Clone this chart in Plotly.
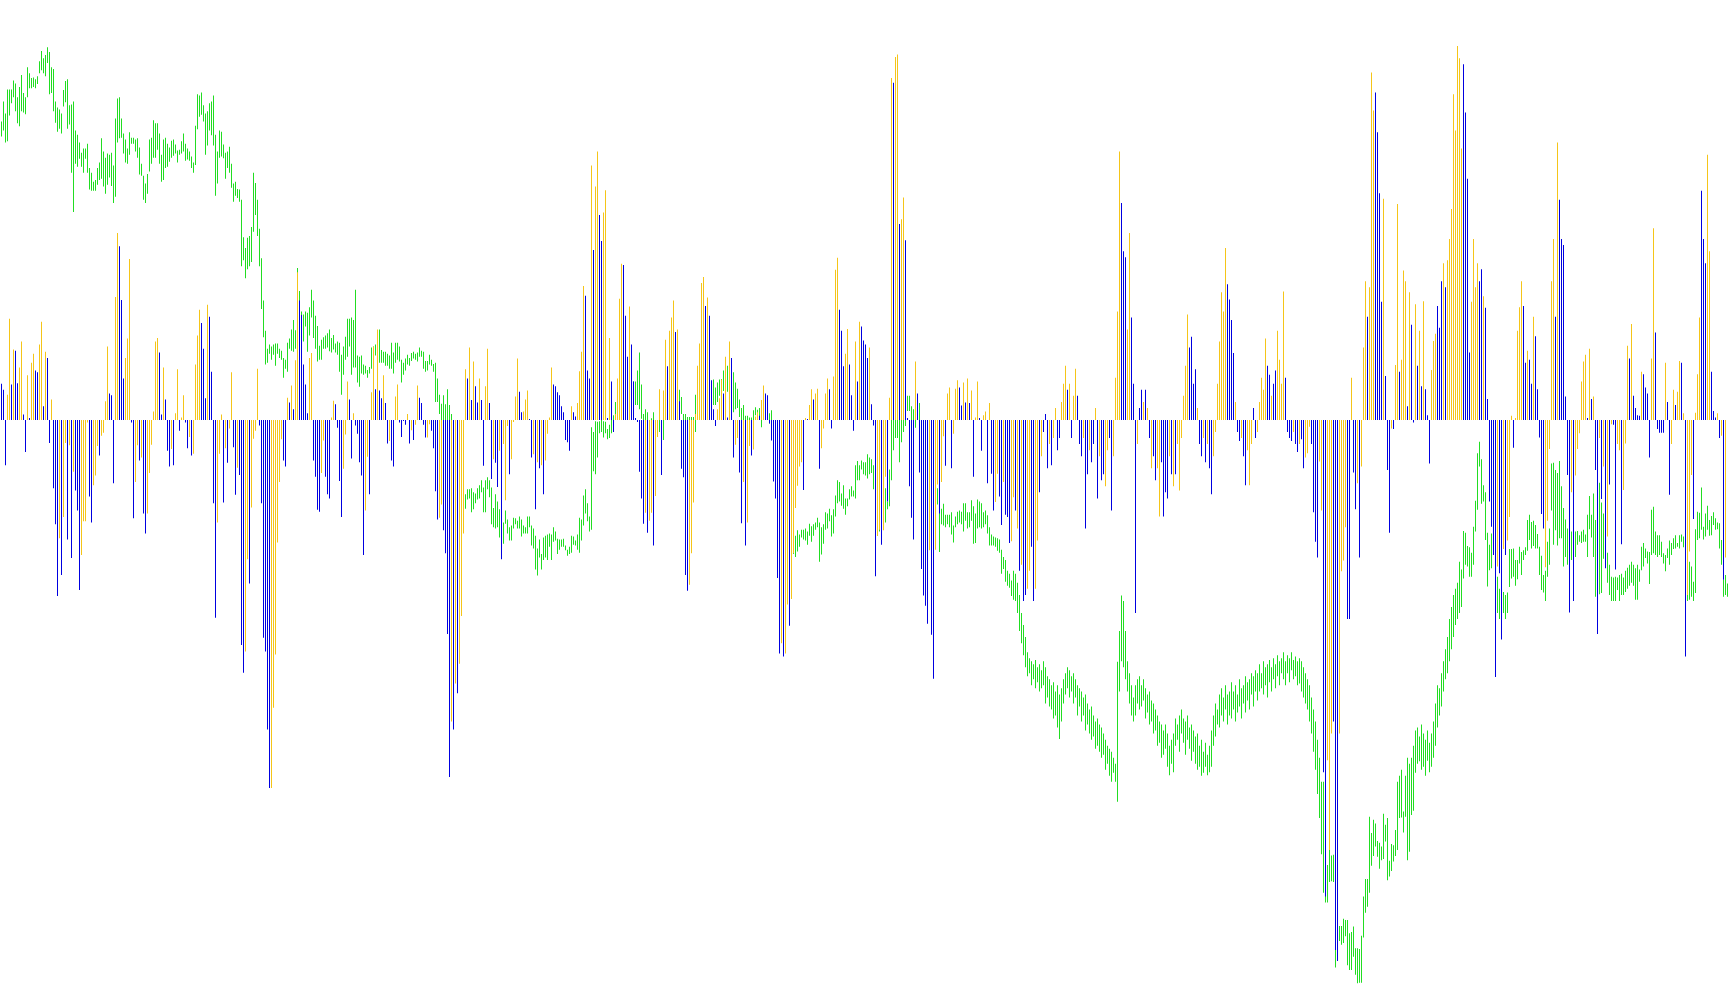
import plotly.graph_objects as go

# ---------------- data (bar index 0..863) ----------------
# oscillator histogram values
hist = [
    60, 50, -75, 42, 168, 59, 117, 115, 61, 87,
    130, 9, -53, 74, 3, 95, 110, 82, 79, 125,
    163, 23, 113, 103, -38, 34, -113, -173, -292, -196,
    -257, -161, -38, -198, -42, -229, -86, -117, -150, -282,
    -224, -168, -168, -4, -127, -170, -108, -92, -43, -59,
    -26, -21, 31, 122, 44, 41, -105, 204, 310, 288,
    199, 69, 103, 135, 267, -4, -163, -103, -42, -67,
    -62, -155,
    -188, -155, -88, -41, 14, 130, 136, 112, 9, 87,
    34, -51, -77, -48, -75, 11, 84, -18, 4, 41,
    -4, -47, -28, -59, -56, 92, 140, 183, 161, 118,
    36, 191, 171, 80, -138, -328, -170, -56, 9, -137,
    -47, -71, -14, 79, -45, -124, -79, -91, -373, -419,
    -384, -231, -271, -145, -31, -18, 85, -9, -138, -361,
    -384, -513, -610, -610, -477, -389, -203, -103, -32, -67,
    -77, 37, 29,
    57, 18, 99, 245, 198, 174, 92, 59, 11, 103,
    111, -67, -94, -149, -152, -88, -34, -94, -123, -130,
    4, 32, 26, -13, -101, -161, -81, -24, 64, 34,
    -64, 11, -9, -23, -70, -92, -224, -150, -61, -123,
    46, 122, 51, 150, 49, 36, 74, 28, -39, -35,
    -67, -77, 39, 59, -4, -28, -1, -8, 10, -39,
    -17, -33, -8, 57, 37, 28, -8, -29, -29, -7,
    -18, -47,
    -118, -165, -162, -140, -183, -221, -355, -592, -500, -513,
    -437, -453, -404, -325, -188, 84, 69, 120, 33, 97,
    56, 29, 69, 33, -76, 56, 118, 28, -98, -65,
    -71, -111, -51, -231, -40, -133, -10, -90, -65, -2,
    39, 102, 47, 13, 14, 34, 49, 1, -62, -57,
    -148, -70, -80, -75, -123, -67, -23, 4, 87, 59,
    56, 46, 41, 23, 13, -33, -37, -51, 23, 13,
    6, 28, 81,
    113, 222, 206, 82, 69, 422, 282, 387, 445, 340,
    297, 344, 381, 2, 136, 64, -20, 10, 69, 201,
    259, 257, 173, 105, 188, 125, 64, 3, -3, -86,
    -130, -172, -154, -187, -167, -154, -208, -126, -28, 51,
    -91, 49, 133, 89, 148, 170, 198, 146, 150, 31,
    -81, -95, -257, -283, -273, -221, -137, 10, 90, 127,
    227, 237, 189, 203, 173, 66, 18, -10, 18, 36,
    67, 44,
    105, 4, 130, 103, -62, -41, -30, -87, -171, -103,
    -208, -170, -43, -59, -49, 6, 13, 7, 33, 57,
    44, 41, -6, -34, -102, -130, -262, -387, -370, -392,
    -387, -306, -341, -297, -221, -146, -109, -77, -70, -116,
    3, 1, 25, 51, 34, 44, 52, -81, -47, -14,
    44, 69, 51, -14, 72, 249, 269, 183, 148, 89,
    110, 151, 92, 41, -18, 130, 64, 163, 155, 132,
    125, 103, 120,
    26, -9, -259, -192, -182, -207, -183, -94, -135, 37,
    567, 559, 602, 606, 325, 333, 369, 298, 2, -110,
    -162, -198, 97, 44, -87, -247, -291, -308, -338, -216,
    -356, -429, -215, -107, -155, -103, -27, -76, 44, 54,
    -80, -23, 52, 66, 54, 24, 62, 29, 69, 28,
    49, -94, 4, 64, 2, -51, 8, 14, -105, 28,
    -89, -150, -136, -89, -127, -174, -103, -157, -161, -204,
    -201, -128,
    -150, -180, -250, -240, -300, -290, -280, -250, -210, -300,
    -280, -200, -120, -60, -20, 10, -80, -40, -75, -30,
    20, -50, -30, 30, 60, 90, 50, 60, -30, 40,
    85, 40, -40, -60, -30, -180, -90, -50, -70, -40,
    20, -130, -60, -100, -90, -110, -50, -30, -150, -60,
    70, 180, 445, 360, 280, 270, 150, 310, 170, 60,
    -320, -40, 20, 50, 30, 50, 20, -30, -80, -60,
    -100, -80, -160, -70, -160, -120, -130, -60, -90, -110,
    -90, -40, -117, -30, 40, 90, 175, 120, 138, 60,
    84, 20, -40, -60, -30, -70, -40, -80, -123, -60,
    -20, 60, 130, 212, 180, 285, 225, 200, 166, 111,
    30, -20, -35, -30, -60, -108, -50, -108, -40, 20,
    -30, -20, 30, 70, 50, 135, 90, 75, 40, 60,
    82, 148, 100, 60, 213, 70, -20, -30, -35, -20,
    -40, -53, -40,
    -32, -80, -62, -55, -11, -40, -153, -202, -228, -69,
    -150, -584, -790, -564, -713, -520, -500, -879, -897, -520,
    -251, -233, -178, -330, -330, 70, -87, -148, -105, -228,
    -77, 120, 230, 171, 220, 576, 513, 543, 477, 376,
    196, 367, 73, -83, -187, -14, -15, 91, 358, 80,
    100, 248, 230, 23, 212, 158, -4, 192, 90, 148,
    56, 197, 51, 8, -72, 83, 131, 143, 189, 153,
    230, 260, 220, 265, 300, 350, 540, 480, 620, 600,
    450, 590, 510, 400, 112, 196, 300, 220, 260, 230,
    250, 205, 186, 35, -135, -177, -224, -426, -243, -254,
    -364, -214, -224, -200, -161, 7, -46, 2, 148, 187,
    230, 189, 95, 115, 100, 60, 171, 139, 51, -29,
    -156, -180, -244, -167, -48, 230, 300, 171, 460, 365,
    300, 290, 39, -91, -319, -120, -300, -92, -48, -22,
    64, 97, 108, 3, 118, 35, 39, -83, -355, -30,
    -131, -77, -246, -193, -107, -7, -8, -248, -40, -50,
    -206, -116, -39, 123, 102, 159, 40, 20, 8, 7,
    80, 76, 54, 44, -62, 102, 318, 145, -15, -21,
    -21, -21, 95, 30, -124, -40, 50, 25, 47, 98,
    95, 11, -392, -290, -218, -91, -164, 12, 76, 170,
    380, 300, 260, 440, 280, 80, 15, 4, 11, -30,
    -26, -265, -228, 0,
]

# histogram colour code per bar: B = blue, Y = yellow
hist_side = (
    "BBBYYBYBBY" "YBBYBYYBBY" "YBYBBYBBBY" "BYYBYBYBBB" "YYYYBBYYYB" "YYYYBBBYYB" "BBYYYBBYYB" "YB"
    "BYYYYYYBBY" "BBBYBYYBYY" "BBYBYYYYBB" "BYBBBBYYYB" "YBYYBBYBBB" "YYBYYYYBBB" "BBBYYYYYYB" "BYB"
    "YBYYBBBBBY" "YBBBBYYBBB" "YYBBBBYYYB" "BYBBBBBYYB" "YYBYBBYBBY" "BBYYBBBBYB" "YBYYBBBBYY" "BB"
    "BBYYBBBBYB" "YBYYYYBYBY" "BBYBBYYBBY" "BBYBYYYBYY" "YYBBYYYBBY" "BYBYBYYYYB" "BBBBBBBBYB" "BYY"
    "YYBBBYBYYB" "BYYBYBBYYY" "YBBBYBBBBB" "BBYBYYBYYY" "BYYBYYYBYB" "BBBBYYYYYY" "YYBYBBBBYY" "YB"
    "YBYBBYYBBY" "BYYBYYYBYY" "BBBBBBBBYB" "YYBYYYYYYB" "YBYYBYYBYY" "YYBBYYYBBB" "YYBBBYBYBB" "BBY"
    "BBBYYBYYBY" "YBYYBYYBBB" "BBYBBBBBBY" "BBYYBYYBYY" "BYYYBBYBYB" "YBYYBBYYBY" "BBYYBBYBBB" "YY"
    "BYBYBBYYBB" "YYBYBBBYBY" "YBBYYYBYBY" "YBBBYBBYBB" "YBYBBYYBBY" "YYYBBBYYBB" "BYBBYBYBYB"
    "BYYBBBBYBY" "BYYYYYYBBB" "BYBBYBYBBY" "YYYYYYBBBB" "YBBYBBYYYB" "BYYYYYBBYB" "BYYYYBBBBY" "BBY"
    "BBYYYBBBBY" "YBBYYYBBBY" "YYYBBYBBYB" "YYYBYYYBBB" "BYBBBYBYYB" "YYYBYBBYBY" "BYBBBYYYBB"
    "BYBYYYYYYY" "YBBBBYYYYB" "BYBBBBBBYB" "BYBYYYBYYY" "YBBYBBYBBB" "BBYYYYYBYB" "BBBBBYBYYY"
    "YYYBYBYBBY" "BYBYBYBBYY" "BYYYBYBBBB" "YBBBBYYBBB" "BBYBBYYBYY" "BYBYYYBYYY" "BBBYYBBBYB" "YBYY"
)

# price bars: high and low per bar
price_high = [
    495, 528, 508, 548, 548, 548, 563, 558, 535, 552,
    572, 542, 535, 585, 575, 567, 568, 565, 570, 595,
    612, 600, 605, 618, 610, 585, 582, 528, 518, 515,
    508, 547, 562, 565, 522, 523, 528, 480, 473, 460,
    443, 450, 450, 458, 418, 410, 395, 398, 418, 427,
    467, 445, 435, 442, 440, 443, 422, 500, 533, 535,
    500, 475, 465, 450, 477, 468, 468, 465, 467, 452,
    425, 405,
    392, 408, 465, 468, 497, 492, 492, 475, 440, 465,
    468, 458, 452, 463, 465, 457, 447, 448, 462, 475,
    458, 450, 445, 437, 427, 488, 540, 538, 543, 522,
    508, 512, 525, 528, 538, 473, 445, 480, 478, 457,
    443, 445, 453, 425, 392, 395, 383, 382, 365, 303,
    285, 302, 305, 320, 410, 393, 365, 317, 268, 198,
    148, 118, 125, 122, 125, 127, 127, 118, 115, 103,
    100, 128, 135,
    150, 166, 149, 252, 214, 180, 175, 180, 178, 187,
    216, 198, 173, 156, 123, 133, 137, 140, 144, 150,
    136, 141, 127, 130, 128, 108, 122, 138, 168, 168,
    170, 166, 216, 107, 105, 107, 92, 90, 83, 88,
    120, 122, 125, 130, 150, 116, 113, 113, 110, 107,
    128, 112, 128, 128, 122, 100, 95, 102, 108, 103,
    111, 113, 110, 112, 120, 115, 113, 98, 98, 108,
    100, 93,
    95, 69, 42, 27, 41, 26, 51, 25, 10, -20,
    -30, -50, -70, -90, -110, -123, -115, -115, -113, -120,
    -122, -113, -108, -100, -112, -100, -95, -100, -112, -146,
    -123, -135, -148, -170, -170, -150, -165, -178, -175, -162,
    -163, -167, -160, -165, -175, -178, -160, -160, -175, -180,
    -192, -213, -198, -222, -195, -192, -190, -188, -190, -178,
    -185, -197, -198, -198, -197, -208, -215, -210, -192, -193,
    -200, -190, -162,
    -165, -125, -115, -138, -160, -12, -20, -2, -3, -2,
    0, -2, -3, -15, -8, 8, 8, 30, 50, 70,
    75, 70, 70, 75, 80, 70, 64, 64, 82, 112,
    59, 10, 18, 13, 0, 3, 13, 0, 0, 0,
    0, 0, 25, 30, 35, 40, 45, 40, 40, 50,
    38, 10, 10, 5, 5, 5, 5, 42, 30, 40,
    50, 55, 55, 60, 60, 65, 67, 54, 62, 67,
    68, 82,
    85, 90, 70, 60, 79, 62, 52, 34, 20, 25,
    7, 7, 4, 4, 16, 21, 17, 20, 3, 25,
    30, 30, 11, 16, -10, -30, -50, -70, -90, -110,
    -130, -160, -170, -180, -192, -192, -183, -190, -182, -182,
    -180, -185, -172, -176, -173, -170, -162, -170, -178, -173,
    -153, -155, -147, -158, -148, -125, -100, -103, -122, -108,
    -130, -130, -115, -110, -117, -75, -68, -75, -67, -70,
    -70, -57, -62,
    -65, -75, -90, -130, -140, -140, -120, -113, -135, -82,
    0, 10, 20, 10, 0, 0, 20, 30, 40, 40,
    23, 18, 20, 30, 28, 0, -20, -30, -50, -60,
    -70, -80, -90, -113, -115, -147, -139, -157, -157, -157,
    -153, -175, -160, -152, -150, -152, -138, -138, -153, -153,
    -133, -143, -155, -132, -135, -138, -153, -150, -158, -178,
    -190, -193, -195, -196, -198, -215, -227, -232, -250, -255,
    -266, -250,
    -255, -270, -290, -320, -340, -360, -385, -395, -400, -405,
    -398, -410, -405, -415, -400, -410, -425, -430, -440, -435,
    -450, -440, -455, -445, -430, -420, -410, -415, -425, -420,
    -430, -440, -445, -450, -460, -455, -470, -480, -475, -490,
    -500, -495, -505, -510, -520, -530, -540, -545, -550, -560,
    -570, -401, -350, -291, -300, -350, -400, -420, -440, -460,
    -440, -430, -425, -440, -430, -445, -455, -450, -465, -470,
    -480, -490, -500, -505, -515, -505, -520, -540, -530, -520,
    -495, -505, -490, -480, -495, -500, -490, -510, -505, -515,
    -525, -520, -540, -530, -550, -535, -555, -540, -515, -490,
    -470, -480, -455, -445, -460, -440, -455, -450, -435, -450,
    -440, -455, -430, -445, -440, -425, -435, -430, -420, -425,
    -415, -420, -405, -420, -400, -410, -405, -398, -410, -395,
    -405, -390, -400, -395, -385, -400, -390, -395, -385, -398,
    -392, -400, -395,
    -400, -410, -420, -430, -440, -460, -480, -500, -530, -560,
    -600, -600, -720, -738, -700, -722, -721, -860, -850, -839,
    -839, -827, -829, -829, -851, -849, -840, -876, -876, -877,
    -855, -790, -761, -761, -658, -685, -663, -669, -698, -701,
    -707, -653, -671, -660, -731, -703, -705, -680, -600, -590,
    -580, -649, -590, -560, -570, -560, -540, -515, -510, -525,
    -505, -520, -530, -515, -535, -520, -500, -470, -440, -445,
    -420, -400, -380, -360, -330, -310, -290, -280, -270, -235,
    -248, -184, -187, -209, -211, -220, -177, -134, -55, -36,
    -65, -108, -120, -187, -207, -188, -146, -230, -260, -280,
    -271, -285, -290, -286, -214, -214, -213, -232, -232, -210,
    -219, -216, -211, -166, -157, -169, -167, -174, -189, -210,
    -225, -257, -250, -202, -180, -72, -71, -83, -88, -68,
    -110, -146, -165, -180, -209, -185, -190, -185, -184, -191,
    -185, -182, -190, -157, -126, -157, -122, -166, -200, -104,
    -137, -155, -193, -220, -240, -260, -261, -260, -261, -257,
    -255, -261, -250, -245, -240, -235, -240, -246, -240, -248,
    -210, -204, -213, -218, -219, -149, -144, -185, -191, -191,
    -202, -221, -224, -213, -200, -204, -196, -191, -204, -191,
    -190, -193, -220, -250, -235, -243, -268, -181, -152, -154,
    -112, -177, -155, -142, -166, -159, -153, -163, -170, -171,
    -199, -265, -257, -271,
]

price_low = [
    470, 480, 460, 462, 505, 525, 535, 512, 492, 487,
    512, 510, 507, 535, 550, 550, 552, 550, 557, 575,
    580, 575, 570, 592, 540, 542, 512, 493, 478, 483,
    475, 520, 527, 483, 490, 410, 345, 425, 420, 433,
    420, 410, 433, 410, 382, 380, 380, 380, 390, 398,
    400, 387, 375, 390, 402, 388, 360, 370, 460, 467,
    468, 442, 427, 425, 440, 458, 458, 445, 435, 407,
    405, 365,
    360, 375, 412, 425, 435, 435, 448, 425, 395, 398,
    418, 420, 428, 435, 438, 442, 427, 440, 442, 445,
    430, 432, 430, 418, 410, 423, 482, 503, 506, 495,
    440, 455, 480, 472, 455, 372, 392, 435, 437, 434,
    400, 418, 410, 385, 362, 372, 368, 362, 255, 265,
    235, 250, 255, 262, 312, 340, 305, 255, 184, 137,
    92, 95, 110, 100, 108, 90, 110, 103, 100, 70,
    85, 80, 118,
    115, 113, 118, 185, 170, 140, 130, 155, 113, 140,
    170, 136, 118, 97, 100, 100, 118, 118, 120, 114,
    112, 117, 112, 108, 80, 42, 75, 100, 105, 122,
    75, 87, 87, 62, 55, 77, 75, 77, 70, 77,
    85, 90, 107, 105, 95, 95, 95, 90, 90, 85,
    85, 77, 95, 100, 97, 62, 75, 82, 92, 90,
    98, 102, 100, 97, 105, 105, 85, 80, 82, 92,
    90, 80,
    30, 30, 10, -20, -10, -30, -10, -20, -50, -70,
    -90, -110, -120, -140, -150, -147, -132, -130, -153, -148,
    -138, -132, -130, -120, -153, -153, -115, -128, -173, -178,
    -180, -178, -195, -210, -205, -172, -188, -200, -200, -180,
    -173, -180, -180, -193, -188, -188, -188, -178, -208, -213,
    -248, -258, -228, -248, -232, -228, -232, -210, -232, -202,
    -200, -222, -215, -210, -210, -216, -225, -222, -220, -207,
    -208, -215, -220,
    -200, -175, -155, -168, -185, -182, -85, -90, -62, -22,
    -20, -29, -22, -32, -30, -22, -12, 8, 15, 30,
    30, 30, 30, 40, 40, 30, 30, 25, 25, 18,
    2, -10, 0, -10, -10, -10, -10, -15, -27, -20,
    -15, -33, 0, 5, 10, 15, 18, 15, 18, 25,
    10, 0, -5, -5, -10, -10, -10, -20, 5, 15,
    20, 25, 30, 30, 30, 25, 25, 25, 30, 40,
    50, 48,
    40, 47, 30, 20, 13, 18, 20, 5, -10, -10,
    -10, -10, -10, -10, -10, 8, 5, 5, -12, 0,
    0, 0, -6, 0, -50, -70, -100, -130, -150, -170,
    -190, -210, -220, -230, -222, -227, -218, -210, -195, -198,
    -200, -207, -192, -202, -192, -182, -178, -235, -223, -205,
    -182, -180, -168, -193, -188, -160, -138, -135, -142, -147,
    -157, -143, -132, -127, -127, -130, -100, -100, -82, -90,
    -92, -97, -90,
    -88, -115, -150, -192, -185, -180, -170, -170, -148, -143,
    -100, -50, -30, -30, -70, -37, -20, -10, 15, 15,
    -10, -15, -13, 0, 0, -50, -70, -90, -100, -120,
    -130, -140, -150, -140, -219, -173, -175, -178, -173, -178,
    -190, -203, -178, -173, -170, -173, -185, -167, -180, -178,
    -167, -205, -204, -180, -178, -180, -178, -173, -188, -208,
    -208, -208, -210, -217, -220, -255, -247, -268, -275, -278,
    -292, -298,
    -300, -320, -350, -370, -390, -410, -425, -420, -440, -430,
    -445, -435, -450, -445, -440, -470, -460, -475, -480, -495,
    -490, -510, -529, -500, -470, -455, -445, -460, -450, -470,
    -460, -490, -475, -500, -490, -515, -505, -520, -530, -525,
    -545, -540, -550, -560, -555, -580, -570, -590, -600, -585,
    -600, -633, -450, -400, -410, -430, -450, -470, -490, -500,
    -490, -470, -480, -475, -465, -495, -485, -505, -500, -520,
    -515, -540, -535, -560, -555, -545, -575, -589, -570, -584,
    -540, -530, -550, -520, -535, -555, -530, -545, -565, -550,
    -570, -580, -575, -590, -585, -575, -589, -584, -575, -540,
    -525, -505, -510, -490, -500, -480, -505, -490, -495, -480,
    -500, -485, -475, -495, -470, -485, -465, -480, -455, -475,
    -450, -465, -450, -445, -455, -440, -460, -435, -450, -430,
    -445, -425, -440, -420, -430, -440, -420, -435, -415, -430,
    -425, -440, -437,
    -450, -460, -470, -480, -500, -520, -550, -580, -620, -660,
    -720, -784, -800, -800, -766, -765, -766, -908, -895, -864,
    -870, -867, -856, -904, -912, -912, -890, -920, -934, -933,
    -933, -858, -817, -807, -784, -739, -723, -707, -724, -744,
    -730, -728, -699, -763, -757, -748, -732, -723, -713, -660,
    -659, -684, -658, -730, -716, -655, -648, -585, -570, -566,
    -580, -575, -590, -565, -584, -575, -560, -540, -510, -490,
    -475, -450, -430, -420, -400, -380, -360, -340, -330, -320,
    -310, -263, -240, -243, -260, -260, -240, -185, -149, -77,
    -139, -135, -199, -276, -249, -246, -220, -290, -320, -330,
    -310, -320, -330, -320, -277, -263, -260, -275, -264, -238,
    -257, -232, -224, -217, -199, -213, -209, -213, -213, -257,
    -282, -286, -300, -260, -240, -150, -207, -183, -208, -196,
    -196, -243, -227, -240, -235, -232, -240, -227, -207, -202,
    -204, -202, -202, -227, -181, -195, -227, -293, -290, -289,
    -287, -230, -243, -270, -290, -300, -300, -300, -282, -300,
    -290, -290, -285, -280, -275, -270, -275, -298, -298, -268,
    -249, -243, -229, -238, -272, -224, -221, -224, -227, -224,
    -227, -238, -251, -229, -240, -224, -214, -213, -210, -213,
    -202, -211, -280, -300, -298, -293, -300, -287, -199, -196,
    -182, -198, -193, -182, -192, -191, -174, -182, -181, -213,
    -240, -293, -290, -293,
]

# ---------------- styling ----------------
SIDE_COLORS = {"B": "#0000E0", "Y": "#F5C518"}
PRICE_COLOR = "#22DD22"

n_price = min(len(price_high), len(price_low))
x_price = list(range(n_price))
price_len = [price_high[i] - price_low[i] for i in range(n_price)]

n_hist = min(len(hist), len(hist_side))
x_hist = list(range(n_hist))
hist_colors = [SIDE_COLORS[c] for c in hist_side[:n_hist]]

fig = go.Figure()
fig.add_trace(go.Bar(
    x=x_price, y=price_len, base=price_low[:n_price], width=0.5,
    marker=dict(color=PRICE_COLOR, line=dict(width=0)),
    hoverinfo="skip",
))
fig.add_trace(go.Bar(
    x=x_hist, y=hist[:n_hist], width=0.5,
    marker=dict(color=hist_colors, line=dict(width=0)),
    hoverinfo="skip",
))

fig.update_layout(
    template="none",
    barmode="overlay",
    width=1730, height=1005,
    margin=dict(l=0, r=0, t=0, b=0, pad=0),
    paper_bgcolor="white", plot_bgcolor="white",
    showlegend=False,
    xaxis=dict(visible=False, range=[-0.75, 864.25], fixedrange=True),
    yaxis=dict(visible=False, range=[-970, 696.4], fixedrange=True),
)

fig.write_html(
    "out.html",
    config={"displayModeBar": False},
    post_script="document.body.style.margin='0';document.body.style.overflow='hidden';",
)
